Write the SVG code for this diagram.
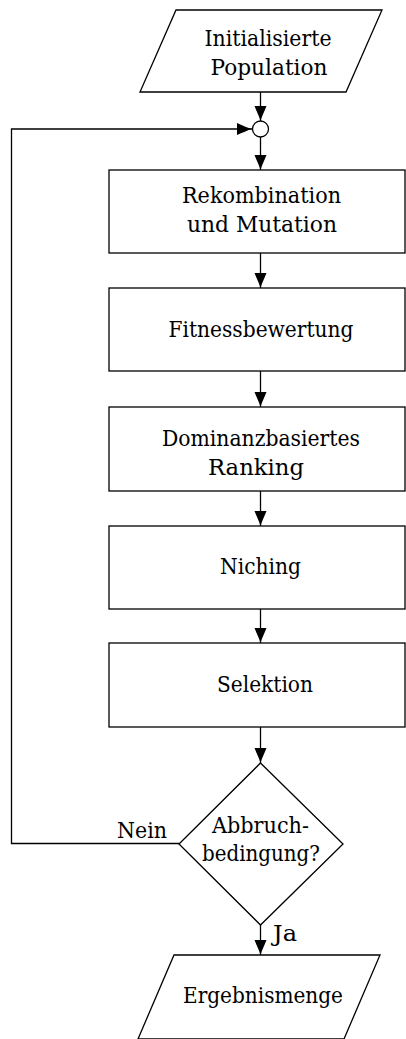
<svg xmlns="http://www.w3.org/2000/svg" width="406" height="1039" viewBox="0 0 406 1039">
  <style>
    .shape { fill: #ffffff; stroke: #000000; stroke-width: 1.3; }
    .wire { fill: none; stroke: #000000; stroke-width: 1.3; }
    text { font-family: 'DejaVu Serif', serif; font-size: 22px; fill: #000000; }
    .label { text-anchor: middle; }
  </style>
  <defs>
    <marker id="arrow" viewBox="-16 -7 17 14" refX="0" refY="0" markerWidth="17" markerHeight="14" markerUnits="userSpaceOnUse" orient="auto">
      <path d="M0,0 C-4,-1 -10,-4 -15,-6 L-15,6 C-10,4 -4,1 0,0 Z" fill="#000000"/>
    </marker>
  </defs>

  <!-- flow connectors -->
  <g id="connectors">
    <line class="wire" x1="260.5" y1="92" x2="260.5" y2="121" marker-end="url(#arrow)"/>
    <line class="wire" x1="260.5" y1="137" x2="260.5" y2="170" marker-end="url(#arrow)"/>
    <line class="wire" x1="260.5" y1="253" x2="260.5" y2="288" marker-end="url(#arrow)"/>
    <line class="wire" x1="260.5" y1="371" x2="260.5" y2="407" marker-end="url(#arrow)"/>
    <line class="wire" x1="260.5" y1="491" x2="260.5" y2="526" marker-end="url(#arrow)"/>
    <line class="wire" x1="260.5" y1="609" x2="260.5" y2="643" marker-end="url(#arrow)"/>
    <line class="wire" x1="260.5" y1="727" x2="260.5" y2="763" marker-end="url(#arrow)"/>
    <line class="wire" x1="260.5" y1="925" x2="260.5" y2="955" marker-end="url(#arrow)"/>
    <!-- loop back from the decision to the junction -->
    <polyline class="wire" points="179,843.5 11.5,843.5 11.5,129 252,129" marker-end="url(#arrow)"/>
    <text x="117" y="838" textLength="50" lengthAdjust="spacingAndGlyphs">Nein</text>
    <text x="273" y="941" textLength="24" lengthAdjust="spacingAndGlyphs">Ja</text>
  </g>

  <g id="init">
    <polygon class="shape" points="176,10 382,10 346,92 140,92"/>
    <text class="label" x="268" y="46" textLength="127" lengthAdjust="spacingAndGlyphs">Initialisierte</text>
    <text class="label" x="269" y="75" textLength="117" lengthAdjust="spacingAndGlyphs">Population</text>
  </g>

  <g id="junction">
    <circle class="shape" cx="260.5" cy="129" r="8"/>
  </g>

  <g id="recombination">
    <rect class="shape" x="109" y="170" width="296" height="83"/>
    <text class="label" x="261.5" y="203" textLength="159" lengthAdjust="spacingAndGlyphs">Rekombination</text>
    <text class="label" x="262" y="232" textLength="150" lengthAdjust="spacingAndGlyphs">und Mutation</text>
  </g>

  <g id="fitness">
    <rect class="shape" x="109" y="288" width="296" height="83"/>
    <text class="label" x="261" y="337" textLength="185" lengthAdjust="spacingAndGlyphs">Fitnessbewertung</text>
  </g>

  <g id="ranking">
    <rect class="shape" x="109" y="407" width="296" height="84"/>
    <text class="label" x="261" y="446" textLength="198" lengthAdjust="spacingAndGlyphs">Dominanzbasiertes</text>
    <text class="label" x="256" y="475" textLength="96" lengthAdjust="spacingAndGlyphs">Ranking</text>
  </g>

  <g id="niching">
    <rect class="shape" x="109" y="526" width="296" height="83"/>
    <text class="label" x="260.5" y="574" textLength="81" lengthAdjust="spacingAndGlyphs">Niching</text>
  </g>

  <g id="selection">
    <rect class="shape" x="109" y="643" width="296" height="84"/>
    <text class="label" x="265" y="692" textLength="96" lengthAdjust="spacingAndGlyphs">Selektion</text>
  </g>

  <g id="decision">
    <polygon class="shape" points="260.5,763 343,844 260.5,925 179,844"/>
    <text class="label" x="260.5" y="833" textLength="97" lengthAdjust="spacingAndGlyphs">Abbruch-</text>
    <text class="label" x="261" y="861" textLength="118" lengthAdjust="spacingAndGlyphs">bedingung?</text>
  </g>

  <g id="result">
    <polygon class="shape" points="174,955 380,955 344,1039 138,1039"/>
    <text class="label" x="263" y="1003" textLength="160" lengthAdjust="spacingAndGlyphs">Ergebnismenge</text>
  </g>
</svg>
